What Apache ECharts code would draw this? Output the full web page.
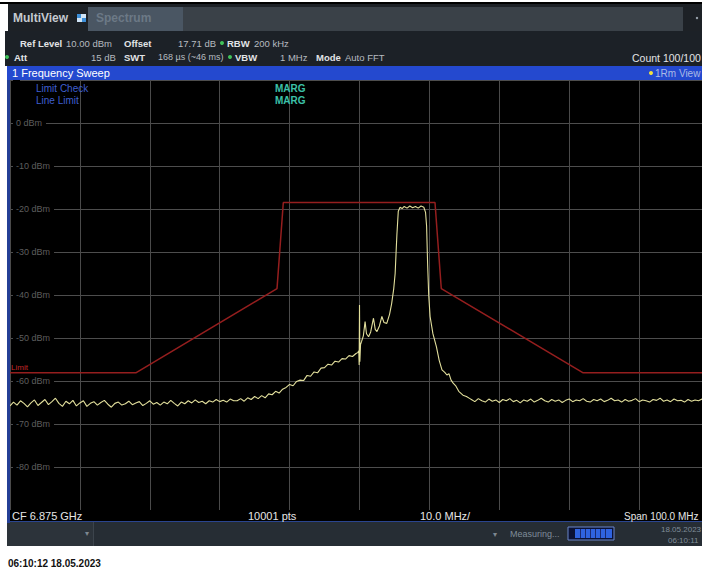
<!DOCTYPE html>
<html>
<head>
<meta charset="utf-8">
<script src="https://cdn.jsdelivr.net/npm/echarts@6/dist/echarts.min.js"></script>
<style>
  html, body { margin: 0; padding: 0; background: #ffffff; }
  #chart { width: 702px; height: 573px; }
</style>
</head>
<body>
<div id="chart"></div>
<script>
// ---- data (frequency offset from CF 6.875 GHz in MHz, level in dBm) ----
const yTicks = [-80, -70, -60, -50, -40, -30, -20, -10, 0];

// noise floor left of the carrier: -50 MHz ... -18 MHz, 0.5 MHz bins
const leftNoiseStart = -50;
const leftNoise = [
  -65.8,-64.9,-65.6,-64.6,-65.2,-66.0,-65.1,-64.4,-65.7,-65.0,
  -64.3,-65.5,-64.8,-64.0,-65.2,-65.9,-64.7,-65.3,-64.5,-65.8,
  -65.1,-64.6,-65.9,-65.2,-64.8,-65.6,-65.0,-64.5,-65.4,-66.1,
  -65.2,-64.9,-65.6,-65.3,-64.7,-65.5,-65.1,-64.8,-65.7,-65.2,
  -64.6,-65.4,-65.0,-65.6,-64.9,-65.3,-64.5,-65.2,-65.8,-64.9,
  -65.3,-64.6,-65.1,-64.4,-65.0,-64.7,-65.3,-64.6,-64.9,-64.3,
  -64.8,-64.5,-64.9,-64.2,-64.6
];
// rising skirt: -17.5 MHz ... -0.5 MHz, 0.5 MHz bins
const leftSkirtStart = -17.5;
const leftSkirt = [
  -64.6,-64.1,-64.7,-63.9,-64.3,-63.6,-64.1,-63.4,-63.9,-63.0,
  -63.2,-62.4,-62.8,-61.9,-61.5,-60.8,-61.1,-60.1,-59.8,-59.9,
  -58.7,-58.9,-57.9,-58.1,-57.0,-56.9,-56.1,-56.3,-55.4,-55.6,
  -54.8,-54.9,-54.1,-54.3,-53.6
];
// carrier, spurs and channel
const centerFreq = [
  -0.25,-0.1,-0.05,0,0.05,0.15,0.3,0.55,0.8,1.0,
  1.3,1.6,2.0,2.25,2.5,2.85,3.2,3.5,3.9,4.3,
  4.6,4.9,5.1,5.25,5.35,5.55,5.8,6.1,6.4,6.8,
  7.2,7.6,8.0,8.4,8.8,9.2,9.45,9.6,9.75,9.9,
  10.1,10.5,11.0,11.4,11.8,12.2,12.5,12.8,13.1,13.4,
  13.8,14.2,14.8,15.3,15.8
];
const centerLevel = [
  -53.4,-53.0,-56.3,-42.3,-55.5,-51.5,-50.8,-49.5,-46.2,-49.0,
  -49.7,-48.6,-45.4,-48.0,-48.5,-47.2,-45.0,-46.4,-46.6,-44.5,
  -42.0,-38.5,-35.0,-29.5,-26.0,-20.5,-19.6,-19.9,-19.4,-19.8,
  -19.3,-19.7,-19.4,-19.8,-19.3,-19.6,-20.8,-24.0,-33.0,-40.0,
  -45.0,-49.0,-52.0,-55.2,-57.4,-58.0,-58.6,-58.3,-59.8,-60.5,
  -61.2,-62.4,-63.3,-63.6,-64.1
];
// noise floor right of the channel: 16 MHz ... 50 MHz, 0.5 MHz bins
const rightNoiseStart = 16;
const rightNoise = [
  -64.3,-64.8,-64.1,-64.6,-64.9,-64.2,-64.7,-64.4,-65.0,-64.3,
  -64.6,-64.1,-64.8,-64.5,-65.1,-64.4,-64.7,-64.2,-64.9,-64.5,
  -64.0,-64.6,-64.9,-64.3,-64.7,-64.4,-65.0,-64.5,-64.2,-64.8,
  -64.4,-64.6,-64.1,-64.7,-64.9,-64.3,-64.6,-64.2,-64.8,-64.5,
  -64.0,-64.6,-64.4,-64.9,-64.3,-64.7,-64.5,-64.1,-64.8,-64.4,
  -64.6,-64.9,-64.3,-64.5,-64.0,-64.7,-64.4,-64.8,-64.2,-64.6,
  -64.5,-64.9,-64.3,-64.7,-64.4,-64.6,-64.2,-64.8,-64.5
];
const binStep = 0.5;

// limit line mask
const limitFreq  = [-50, -32.0, -11.8, -10.9, 10.8, 11.7, 32.0, 50];
const limitLevel = [-58.1, -58.1, -38.5, -18.5, -18.5, -38.5, -58.1, -58.1];

// ---- build series data ----
const trace = [];
leftNoise.forEach((v, i) => trace.push([leftNoiseStart + i * binStep, v]));
leftSkirt.forEach((v, i) => trace.push([leftSkirtStart + i * binStep, v]));
centerFreq.forEach((f, i) => trace.push([f, centerLevel[i]]));
rightNoise.forEach((v, i) => trace.push([rightNoiseStart + i * binStep, v]));
const limit = limitFreq.map((f, i) => [f, limitLevel[i]]);

// ---- chrome helpers ----
const FONT = "'Liberation Sans', Arial, sans-serif";
function rect(x, y, w, h, fill, z, extra) {
  return Object.assign({ type: 'rect', shape: { x, y, width: w, height: h }, style: { fill }, z: z || 1, silent: true }, extra || {});
}
function txt(x, y, text, fill, size, weight, align, z) {
  return { type: 'text', x, y, z: z || 20, silent: true,
    style: { text, fill, font: (weight || 'normal') + ' ' + size + 'px ' + FONT, align: align || 'left', verticalAlign: 'middle' } };
}
function dot(cx, cy, r, fill) {
  return { type: 'circle', shape: { cx, cy, r }, style: { fill }, z: 20, silent: true };
}

const graphics = [
  // top black rule
  rect(0, 2, 702, 2, '#000000', 1),
  // tab row
  rect(8, 4, 694, 27, '#1d2126', 1),
  rect(183, 7, 500, 24, '#3a4148', 2),
  rect(88, 7, 95, 24, '#4a5663', 2),
  txt(13, 18, 'MultiView', '#c5cad0', 12, 'bold'),
  rect(77, 14, 9, 8, '#cfe3f5', 3),
  rect(77, 14, 4, 4, '#3d8fd8', 4),
  rect(82, 18, 4, 4, '#3d8fd8', 4),
  txt(96, 18, 'Spectrum', '#6c7986', 12, 'bold'),
  dot(697, 18, 1.2, '#9aa4ae'),
  // info rows
  rect(5, 31, 697, 35, '#1c2127', 1),
  txt(20, 43, 'Ref Level', '#e2e4e6', 9.5, 'bold'),
  txt(66, 43, '10.00 dBm', '#b6bbc0', 9.5),
  txt(124, 43, 'Offset', '#e2e4e6', 9.5, 'bold'),
  txt(178, 43, '17.71 dB', '#b6bbc0', 9.5),
  dot(222, 43, 2, '#41c25a'),
  txt(227, 43, 'RBW', '#e2e4e6', 9.5, 'bold'),
  txt(254, 43, '200 kHz', '#b6bbc0', 9.5),
  dot(7, 57, 2, '#41c25a'),
  txt(14, 57, 'Att', '#e2e4e6', 9.5, 'bold'),
  txt(91, 57, '15 dB', '#b6bbc0', 9.5),
  txt(124, 57, 'SWT', '#e2e4e6', 9.5, 'bold'),
  txt(158, 57, '168 µs (~46 ms)', '#b6bbc0', 9),
  dot(230, 57, 2, '#41c25a'),
  txt(235, 57, 'VBW', '#e2e4e6', 9.5, 'bold'),
  txt(280, 57, '1 MHz', '#b6bbc0', 9.5),
  txt(316, 57, 'Mode', '#e2e4e6', 9.5, 'bold'),
  txt(345, 57, 'Auto FFT', '#b6bbc0', 9.5),
  txt(632, 58, 'Count 100/100', '#e2e4e6', 10.5),
  // blue title bar
  rect(7, 66, 695, 14, '#2449cf', 2),
  txt(12, 73, '1 Frequency Sweep', '#ffffff', 11),
  dot(651, 73, 2, '#f0e040'),
  txt(655, 73, '1Rm View', '#aab9e6', 10),
  // left blue frame of the diagram
  rect(7, 80, 3, 443, '#243f96', 30),
  // limit check table
  txt(36, 88, 'Limit Check', '#3f5fcf', 10),
  txt(36, 100, 'Line Limit', '#3f5fcf', 10),
  txt(275, 88, 'MARG', '#3cc0a8', 10, 'bold'),
  txt(275, 100, 'MARG', '#3cc0a8', 10, 'bold'),
  txt(11, 367, 'Limit', '#c42828', 8),
  // bottom label row
  rect(10, 510, 692, 12, '#000000', 25),
  rect(7, 521, 695, 1, '#2a4590', 26),
  txt(12, 516, 'CF 6.875 GHz', '#e6e6e6', 11, 'normal', 'left', 27),
  txt(248, 516, '10001 pts', '#e6e6e6', 11, 'normal', 'left', 27),
  txt(420, 516, '10.0 MHz/', '#e6e6e6', 11, 'normal', 'left', 27),
  txt(624, 516, 'Span 100.0 MHz', '#e6e6e6', 10, 'normal', 'left', 27),
  // status bar
  rect(7, 522, 695, 24, '#262d34', 25),
  rect(7, 522, 86, 24, '#2c333a', 26),
  rect(93, 522, 1, 24, '#3c444c', 26),
  txt(87, 533, '▾', '#7d8790', 8, 'normal', 'center', 27),
  txt(495, 534, '▾', '#7d8790', 8, 'normal', 'center', 27),
  txt(510, 534, 'Measuring...', '#7f8c99', 9, 'normal', 'left', 27),
  rect(568, 527, 46, 13, '#0b1236', 27, { style: { fill: '#0b1236', stroke: '#6a86c8', lineWidth: 1 } }),
  rect(575, 529, 37, 9, '#2f63e0', 28),
  dot(647, 530, 1.8, '#39b54a'),
  dot(644, 536, 1.8, '#39b54a'),
  dot(650, 536, 1.8, '#39b54a'),
  txt(661, 529, '18.05.2023', '#7f8c99', 8, 'normal', 'left', 27),
  txt(668, 540, '06:10:11', '#7f8c99', 8, 'normal', 'left', 27),
  // caption below screen
  txt(8, 563, '06:10:12 18.05.2023', '#111111', 10, 'bold')
];
// progress bar segment separators
[580, 585, 590, 595, 600, 605].forEach(x => graphics.push(rect(x, 529, 1, 9, '#1a2a70', 29)));

const chart = echarts.init(document.getElementById('chart'), null, { renderer: 'svg', width: 702, height: 573 });
chart.setOption({
  backgroundColor: '#ffffff',
  animation: false,
  grid: { left: 10, top: 80, width: 699, height: 430, outerBoundsMode: 'none', containLabel: false,
          show: true, backgroundColor: '#000000', borderWidth: 0 },
  xAxis: {
    type: 'value', min: -50, max: 50, interval: 10,
    axisLine: { show: false }, axisTick: { show: false }, axisLabel: { show: false },
    splitLine: { show: true, lineStyle: { color: '#4a4a4a', width: 1 } }
  },
  yAxis: {
    type: 'value', min: -90, max: 10, interval: 10,
    axisLine: { show: false }, axisTick: { show: false },
    splitLine: { show: true, lineStyle: { color: '#4d4d4d', width: 1 } },
    axisLabel: {
      inside: true, margin: 3, color: '#5e5e5e', fontSize: 9, fontFamily: FONT,
      backgroundColor: '#000000', padding: [1, 4, 1, 3],
      formatter: v => (yTicks.indexOf(v) >= 0 ? v + ' dBm' : '')
    }
  },
  series: [
    { type: 'line', data: limit, symbol: 'none', silent: true,
      lineStyle: { color: '#951e1e', width: 1.5 }, z: 3 },
    { type: 'line', data: trace, symbol: 'none', silent: true,
      lineStyle: { color: '#e2df9c', width: 1.1 }, z: 4 }
  ],
  graphic: { elements: graphics }
});
</script>
</body>
</html>
